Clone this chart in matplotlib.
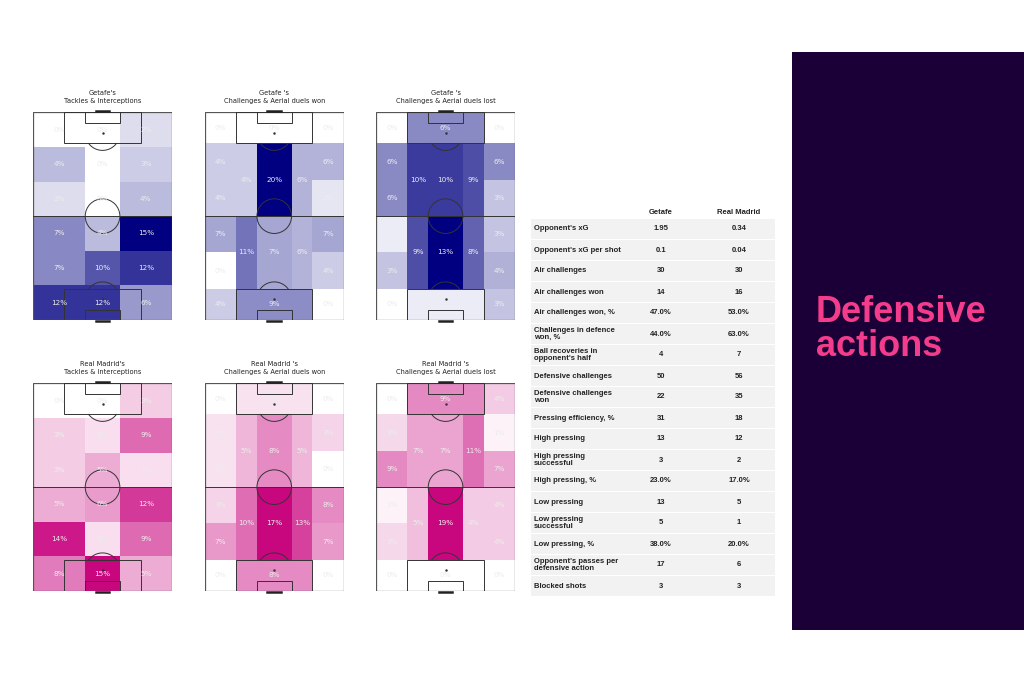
import numpy as np
import matplotlib
matplotlib.use("Agg")
import matplotlib.pyplot as plt
from matplotlib.patches import Rectangle, Circle
from matplotlib.colors import LinearSegmentedColormap, Normalize

# ── Data ───────────────────────────────────────────────────────
# 6x3 grid (rows top -> bottom, cols left -> right)
getafe_tackles = [[0, 0, 2],
                  [4, 0, 3],
                  [2, 0, 4],
                  [7, 4, 15],
                  [7, 10, 12],
                  [12, 12, 6]]
madrid_tackles = [[0, 0, 3],
                  [3, 2, 9],
                  [3, 5, 2],
                  [5, 6, 12],
                  [14, 2, 9],
                  [8, 15, 5]]

# positional zones (order defined by ZONES below)
getafe_duels_won = [0, 0, 0, 4, 4, 4, 20, 6, 6, 2, 7, 0, 11, 7, 6, 7, 4, 4, 9, 0]
getafe_duels_lost = [0, 6, 0, 6, 6, 10, 10, 9, 6, 3, 1, 3, 9, 13, 8, 3, 4, 0, 1, 3]
madrid_duels_won = [0, 2, 0, 2, 2, 5, 8, 5, 3, 0, 3, 7, 10, 17, 13, 8, 7, 0, 8, 0]
madrid_duels_lost = [0, 9, 4, 3, 9, 7, 7, 11, 1, 7, 1, 3, 5, 19, 4, 4, 4, 0, 0, 0]

titles = ["Getafe's\nTackles & Interceptions",
          "Getafe 's\nChallenges & Aerial duels won",
          "Getafe 's\nChallenges & Aerial duels lost",
          "Real Madrid's\nTackles & Interceptions",
          "Real Madrid 's\nChallenges & Aerial duels won",
          "Real Madrid 's\nChallenges & Aerial duels lost"]

stat_labels = ["Opponent's xG", "Opponent's xG per shot", "Air challenges",
               "Air challenges won", "Air challenges won, %",
               "Challenges in defence\nwon, %", "Ball recoveries in\nopponent's half",
               "Defensive challenges", "Defensive challenges\nwon",
               "Pressing efficiency, %", "High pressing", "High pressing\nsuccessful",
               "High pressing, %", "Low pressing", "Low pressing\nsuccessful",
               "Low pressing, %", "Opponent's passes per\ndefensive action",
               "Blocked shots"]
getafe_stats = ["1.95", "0.1", "30", "14", "47.0%", "44.0%", "4", "50", "22",
                "31", "13", "3", "23.0%", "13", "5", "38.0%", "17", "3"]
madrid_stats = ["0.34", "0.04", "30", "16", "53.0%", "63.0%", "7", "56", "35",
                "18", "12", "2", "17.0%", "5", "1", "20.0%", "6", "3"]

# ── Geometry ───────────────────────────────────────────────────
W, H = 1024, 683
GRID_X = [0, 30, 50, 80]
GRID_Y = [0, 20, 40, 60, 80, 100, 120]
# positional zones: (x0, x1, y0, y1)
ZONES = [(0, 18, 0, 18), (18, 62, 0, 18), (62, 80, 0, 18),
         (0, 18, 18, 39), (0, 18, 39, 60), (18, 30, 18, 60), (30, 50, 18, 60),
         (50, 62, 18, 60), (62, 80, 18, 39), (62, 80, 39, 60),
         (0, 18, 60, 81), (0, 18, 81, 102), (18, 30, 60, 102), (30, 50, 60, 102),
         (50, 62, 60, 102), (62, 80, 60, 81), (62, 80, 81, 102),
         (0, 18, 102, 120), (18, 62, 102, 120), (62, 80, 102, 120)]

blue_cmap = LinearSegmentedColormap.from_list("getafe", ["#ffffff", "#000080"])
pink_cmap = LinearSegmentedColormap.from_list("madrid", ["#ffffff", "#c8077f"])

fig = plt.figure(figsize=(W / 100, H / 100), dpi=100)
fig.patch.set_facecolor("white")


def px_axes(x0, y0, x1, y1):
    return fig.add_axes([x0 / W, 1 - y1 / H, (x1 - x0) / W, (y1 - y0) / H])


def draw_pitch(ax):
    lc, lw = "#333333", 0.7
    ax.add_patch(Rectangle((0, 0), 80, 120, fill=False, ec="#555555", lw=0.9, zorder=3))
    ax.plot([0, 80], [60, 60], color=lc, lw=lw, zorder=3)
    ax.add_patch(Circle((40, 60), 10, fill=False, ec=lc, lw=lw, zorder=3))
    for y0 in (0, 102):
        ax.add_patch(Rectangle((18, y0), 44, 18, fill=False, ec=lc, lw=lw, zorder=3))
    for y0 in (0, 114):
        ax.add_patch(Rectangle((30, y0), 20, 6, fill=False, ec=lc, lw=lw, zorder=3))
    t = np.linspace(-np.arccos(0.6), np.arccos(0.6), 40)
    ax.plot(40 + 10 * np.sin(t), 12 + 10 * np.cos(t), color=lc, lw=lw, zorder=3)
    ax.plot(40 + 10 * np.sin(t), 108 - 10 * np.cos(t), color=lc, lw=lw, zorder=3)
    ax.scatter([40, 40], [12, 108], s=0.6, color=lc, zorder=3)
    ax.plot([36, 44], [-0.7, -0.7], color="#222222", lw=1.8, clip_on=False, zorder=3)
    ax.plot([36, 44], [120.7, 120.7], color="#222222", lw=1.8, clip_on=False, zorder=3)
    ax.set_xlim(0, 80)
    ax.set_ylim(120, 0)
    ax.axis("off")


def pct_text(ax, x, y, v):
    ax.text(x, y, f"{v}%", ha="center", va="center", fontsize=5.2,
            color="#ececec", zorder=4)


def grid_pitch(ax, values, cmap):
    vals = np.array(values)
    ax.pcolormesh(GRID_X, GRID_Y, vals, cmap=cmap, vmin=0, vmax=vals.max(), zorder=1)
    for r in range(vals.shape[0]):
        for c in range(vals.shape[1]):
            pct_text(ax, (GRID_X[c] + GRID_X[c + 1]) / 2,
                     (GRID_Y[r] + GRID_Y[r + 1]) / 2, vals[r, c])
    draw_pitch(ax)


def positional_pitch(ax, values, cmap):
    norm = Normalize(0, max(values))
    for (x0, x1, y0, y1), v in zip(ZONES, values):
        ax.add_patch(Rectangle((x0, y0), x1 - x0, y1 - y0, fc=cmap(norm(v)),
                               ec="none", zorder=1))
        pct_text(ax, (x0 + x1) / 2, (y0 + y1) / 2, v)
    draw_pitch(ax)


# ── Pitches ────────────────────────────────────────────────────
pitch_left = [33.3, 205.0, 376.3]
pitch_top = [112.3, 383.3]
pw, ph = 138.5, 207.7
panels = [(getafe_tackles, blue_cmap, "grid"),
          (getafe_duels_won, blue_cmap, "pos"),
          (getafe_duels_lost, blue_cmap, "pos"),
          (madrid_tackles, pink_cmap, "grid"),
          (madrid_duels_won, pink_cmap, "pos"),
          (madrid_duels_lost, pink_cmap, "pos")]

for i, (vals, cmap, kind) in enumerate(panels):
    x0 = pitch_left[i % 3]
    y0 = pitch_top[i // 3]
    ax = px_axes(x0, y0, x0 + pw, y0 + ph)
    if kind == "grid":
        grid_pitch(ax, vals, cmap)
    else:
        positional_pitch(ax, vals, cmap)
    ax.text(40, -5, titles[i], ha="center", va="bottom", fontsize=4.8,
            color="#222222", linespacing=1.35)

# ── Stats table ────────────────────────────────────────────────
tax = px_axes(528, 200, 778, 600)
tax.set_xlim(528, 778)
tax.set_ylim(600, 200)
tax.axis("off")
tfont = dict(family="Liberation Sans", fontweight="bold", fontsize=5.5, color="#222222")
tax.text(661, 213, "Getafe", ha="center", va="center", **tfont)
tax.text(739, 213, "Real Madrid", ha="center", va="center", **tfont)
for i, (lab, g, m) in enumerate(zip(stat_labels, getafe_stats, madrid_stats)):
    yc = 229 + 21 * i
    tax.add_patch(Rectangle((531, yc - 9.8), 244, 19.6, fc="#f2f2f2", ec="none"))
    tax.text(534, yc, lab, ha="left", va="center", linespacing=0.95, **tfont)
    tax.text(661, yc, g, ha="center", va="center", **tfont)
    tax.text(739, yc, m, ha="center", va="center", **tfont)

# ── Title panel ────────────────────────────────────────────────
pax = px_axes(792, 52, 1024, 630)
pax.set_xlim(792, 1024)
pax.set_ylim(630, 52)
pax.axis("off")
pax.add_patch(Rectangle((792, 52), 232, 578, fc="#1a0036", ec="none"))
hfont = dict(family="Liberation Sans", fontweight="bold", fontsize=26, color="#f43c8c")
pax.text(816, 322, "Defensive", ha="left", va="baseline", **hfont)
pax.text(816, 356, "actions", ha="left", va="baseline", **hfont)

fig.savefig("out.png", dpi=100, facecolor="white")
